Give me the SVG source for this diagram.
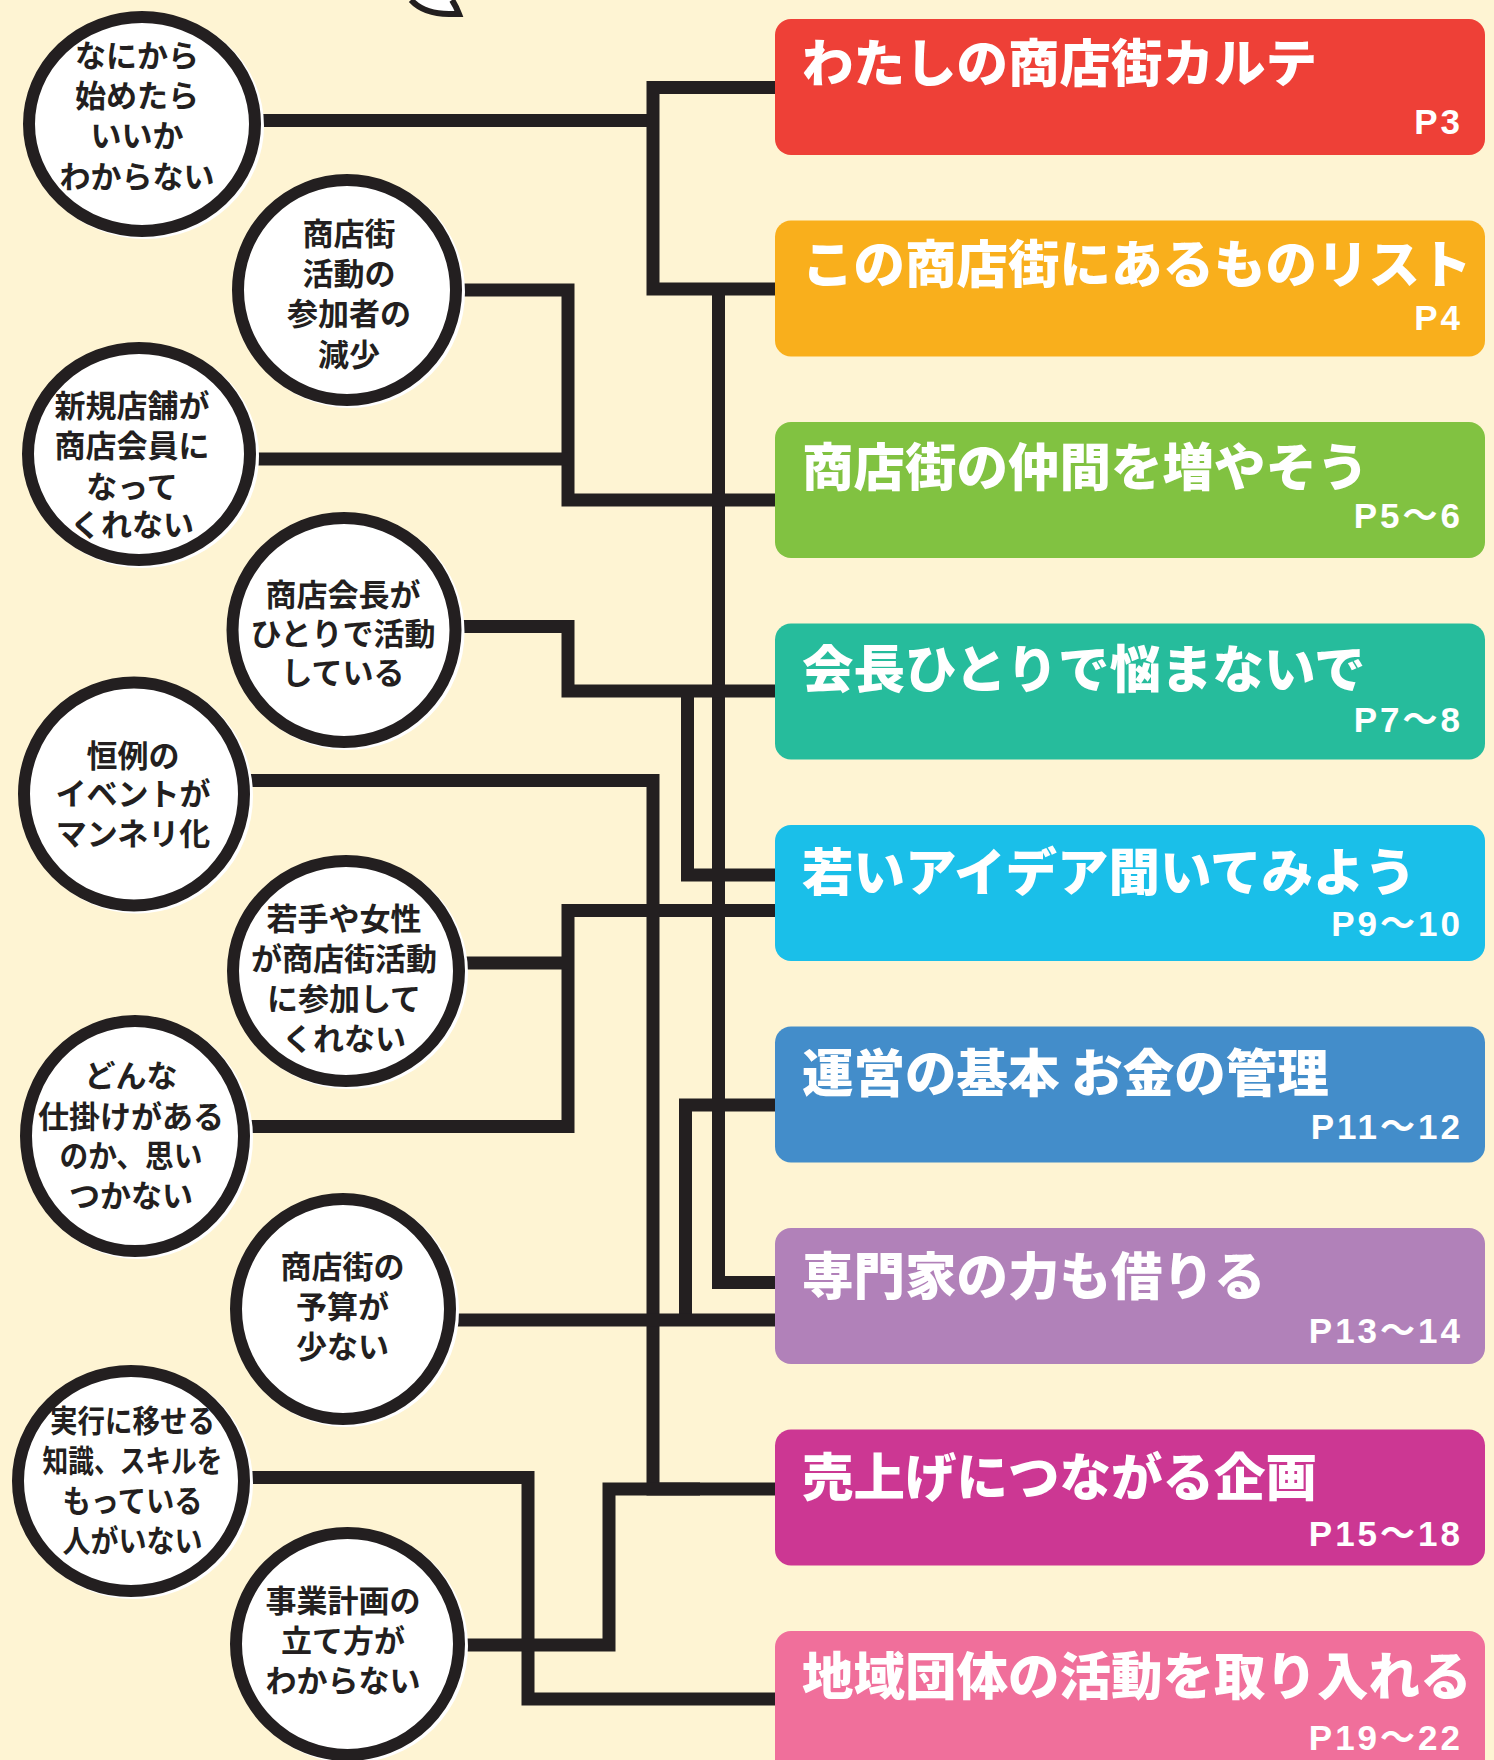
<svg xmlns="http://www.w3.org/2000/svg" width="1494" height="1760" viewBox="0 0 1494 1760">
<style>
.bg{fill:#FEF4D3}
.ln{fill:none;stroke:#231F20;stroke-width:13;stroke-linejoin:miter;stroke-linecap:butt}
.bub{fill:#FFFFFF;stroke:#231F20;stroke-width:12}
.halo{fill:#FFFFFF;stroke:#FFFFFF;stroke-width:12}
.ct{font-family:"Noto Sans CJK JP","Noto Sans CJK SC",sans-serif;font-weight:700;font-size:31px;fill:#231F20;text-anchor:middle}
.tt{font-family:"Noto Sans CJK JP","Noto Sans CJK SC",sans-serif;font-weight:900;font-size:51.5px;fill:#FFFFFF}
.pg{font-family:"Liberation Sans","Noto Sans CJK JP",sans-serif;font-weight:700;font-size:35px;fill:#FFFFFF;text-anchor:end;letter-spacing:3px}
</style>
<rect class="bg" x="0" y="0" width="1494" height="1760"/>
<path d="M411 0 Q424 14 449 14 L459 14 Q456 6 452 0" fill="#FFFFFF" stroke="#231F20" stroke-width="6"/>

<g id="connectors">
<path class="ln" d="M142 120.5 H653"/>
<path class="ln" d="M780 87.5 H653 V289 H780"/>
<path class="ln" d="M718.5 289 V1282.5 H780"/>
<path class="ln" d="M347 290 H568 V500 H780"/>
<path class="ln" d="M139 459 H568"/>
<path class="ln" d="M344 626.5 H568 V691 H780"/>
<path class="ln" d="M687.5 691 V875 H780"/>
<path class="ln" d="M134 780.5 H653 V1489 H780"/>
<path class="ln" d="M780 910.5 H568 V1126.5 H135"/>
<path class="ln" d="M346 963 H568"/>
<path class="ln" d="M780 1105 H685.5 V1320"/>
<path class="ln" d="M343 1320 H780"/>
<path class="ln" d="M131 1477.5 H528 V1699 H780"/>
<path class="ln" d="M347 1645 H609 V1489 H700"/>
</g>

<g id="bubble1">
<ellipse class="halo" cx="145" cy="126" rx="113" ry="107"/>
<ellipse class="bub" cx="142" cy="124" rx="113" ry="107"/>
<text class="ct" x="137" y="67">なにから</text>
<text class="ct" x="137" y="107">始めたら</text>
<text class="ct" x="137" y="147">いいか</text>
<text class="ct" x="137" y="187.5">わからない</text>
</g>
<g id="bubble2">
<ellipse class="halo" cx="350" cy="292" rx="109" ry="110"/>
<ellipse class="bub" cx="347" cy="290" rx="109" ry="110"/>
<text class="ct" x="349" y="245">商店街</text>
<text class="ct" x="349" y="285">活動の</text>
<text class="ct" x="349" y="325">参加者の</text>
<text class="ct" x="349" y="365.5">減少</text>
</g>
<g id="bubble3">
<ellipse class="halo" cx="142" cy="456" rx="111" ry="106"/>
<ellipse class="bub" cx="139" cy="454" rx="111" ry="106"/>
<text class="ct" x="132" y="417">新規店舗が</text>
<text class="ct" x="132" y="457">商店会員に</text>
<text class="ct" x="132" y="497.5">なって</text>
<text class="ct" x="132" y="536">くれない</text>
</g>
<g id="bubble4">
<ellipse class="halo" cx="347" cy="632" rx="111.5" ry="112"/>
<ellipse class="bub" cx="344" cy="630" rx="111.5" ry="112"/>
<text class="ct" x="343" y="606">商店会長が</text>
<text class="ct" x="343" y="645">ひとりで活動</text>
<text class="ct" x="343" y="684">している</text>
</g>
<g id="bubble5">
<ellipse class="halo" cx="137" cy="796" rx="110" ry="111.5"/>
<ellipse class="bub" cx="134" cy="794" rx="110" ry="111.5"/>
<text class="ct" x="133" y="767">恒例の</text>
<text class="ct" x="133" y="805">イベントが</text>
<text class="ct" x="133" y="845">マンネリ化</text>
</g>
<g id="bubble6">
<ellipse class="halo" cx="349" cy="973" rx="113" ry="110"/>
<ellipse class="bub" cx="346" cy="971" rx="113" ry="110"/>
<text class="ct" x="344" y="930">若手や女性</text>
<text class="ct" x="344" y="970">が商店街活動</text>
<text class="ct" x="344" y="1010">に参加して</text>
<text class="ct" x="344" y="1050">くれない</text>
</g>
<g id="bubble7">
<ellipse class="halo" cx="138" cy="1138" rx="109" ry="115"/>
<ellipse class="bub" cx="135" cy="1136" rx="109" ry="115"/>
<text class="ct" x="131" y="1087">どんな</text>
<text class="ct" x="131" y="1128">仕掛けがある</text>
<text class="ct" x="131" y="1167" textLength="143" lengthAdjust="spacingAndGlyphs">のか、思い</text>
<text class="ct" x="131" y="1207">つかない</text>
</g>
<g id="bubble8">
<ellipse class="halo" cx="346" cy="1311" rx="107" ry="110"/>
<ellipse class="bub" cx="343" cy="1309" rx="107" ry="110"/>
<text class="ct" x="342.5" y="1278">商店街の</text>
<text class="ct" x="342.5" y="1318">予算が</text>
<text class="ct" x="342.5" y="1358">少ない</text>
</g>
<g id="bubble9">
<ellipse class="halo" cx="134" cy="1483" rx="113" ry="110"/>
<ellipse class="bub" cx="131" cy="1481" rx="113" ry="110"/>
<text class="ct" x="132.5" y="1432" textLength="165" lengthAdjust="spacingAndGlyphs">実行に移せる</text>
<text class="ct" x="132.5" y="1472" textLength="180" lengthAdjust="spacingAndGlyphs">知識、スキルを</text>
<text class="ct" x="132.5" y="1512" textLength="140" lengthAdjust="spacingAndGlyphs">もっている</text>
<text class="ct" x="132.5" y="1552" textLength="140" lengthAdjust="spacingAndGlyphs">人がいない</text>
</g>
<g id="bubble10">
<ellipse class="halo" cx="350.5" cy="1646" rx="111.5" ry="111"/>
<ellipse class="bub" cx="347.5" cy="1644" rx="111.5" ry="111"/>
<text class="ct" x="343" y="1612">事業計画の</text>
<text class="ct" x="343" y="1652">立て方が</text>
<text class="ct" x="343" y="1692">わからない</text>
</g>

<g id="box1">
<rect x="775" y="19" width="710" height="136" rx="16" fill="#EE4037"/>
<text class="tt" x="802" y="82">わたしの商店街カルテ</text>
<text class="pg" x="1463" y="134">P3</text>
</g>
<g id="box2">
<rect x="775" y="220.5" width="710" height="136" rx="16" fill="#F9AF1C"/>
<text class="tt" x="802" y="283">この商店街にあるものリスト</text>
<text class="pg" x="1463" y="330">P4</text>
</g>
<g id="box3">
<rect x="775" y="422" width="710" height="136" rx="16" fill="#81C241"/>
<text class="tt" x="802" y="486">商店街の仲間を増やそう</text>
<text class="pg" x="1463" y="528">P5～6</text>
</g>
<g id="box4">
<rect x="775" y="623.5" width="710" height="136" rx="16" fill="#26BC9C"/>
<text class="tt" x="802" y="688">会長ひとりで悩まないで</text>
<text class="pg" x="1463" y="732">P7～8</text>
</g>
<g id="box5">
<rect x="775" y="825" width="710" height="136" rx="16" fill="#1ABFE9"/>
<text class="tt" x="802" y="891">若いアイデア聞いてみよう</text>
<text class="pg" x="1463" y="936">P9～10</text>
</g>
<g id="box6">
<rect x="775" y="1026.5" width="710" height="136" rx="16" fill="#438DCA"/>
<text class="tt" x="802" y="1092">運営の基本 お金の管理</text>
<text class="pg" x="1463" y="1139">P11～12</text>
</g>
<g id="box7">
<rect x="775" y="1228" width="710" height="136" rx="16" fill="#B181B9"/>
<text class="tt" x="802" y="1295">専門家の力も借りる</text>
<text class="pg" x="1463" y="1343">P13～14</text>
</g>
<g id="box8">
<rect x="775" y="1429.5" width="710" height="136" rx="16" fill="#CC3793"/>
<text class="tt" x="802" y="1496">売上げにつながる企画</text>
<text class="pg" x="1463" y="1546">P15～18</text>
</g>
<g id="box9">
<rect x="775" y="1631" width="710" height="160" rx="16" fill="#F06F9B"/>
<text class="tt" x="802" y="1695">地域団体の活動を取り入れる</text>
<text class="pg" x="1463" y="1750">P19～22</text>
</g>
</svg>
